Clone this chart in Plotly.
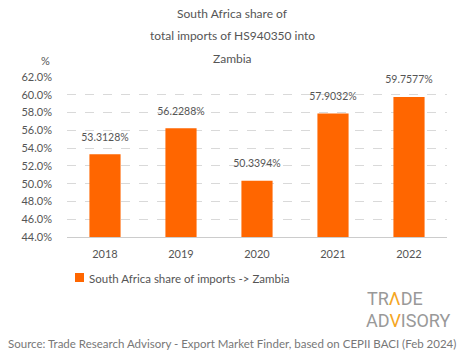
import plotly.graph_objects as go

years = ["2018", "2019", "2020", "2021", "2022"]
shares = [53.3128, 56.2288, 50.3394, 57.9032, 59.7577]
labels = ["53.3128%", "56.2288%", "50.3394%", "57.9032%", "59.7577%"]
series_name = "South Africa share of imports -> Zambia"
tick_vals = [44, 46, 48, 50, 52, 54, 56, 58, 60, 62]
tick_text = ["44.0%", "46.0%", "48.0%", "50.0%", "52.0%", "54.0%", "56.0%", "58.0%", "60.0%", "62.0%"]

FONT = "Lato, Noto Sans, sans-serif"
GREY = "#555555"
ORANGE = "#FF6600"

T, B, L, R = 77, 122, 67, 18
PH = 359 - T - B
PW = 465 - L - R

def py(px):
    return (359 - B - px) / PH

def pxx(px):
    return (px - L) / PW

fig = go.Figure()
fig.add_trace(go.Bar(
    x=years, y=shares, name=series_name,
    marker=dict(color=ORANGE, line=dict(width=0)),
    width=0.41, showlegend=False, hoverinfo="skip",
))
fig.add_trace(go.Scatter(
    x=years, y=shares, mode="markers+text", text=labels,
    textposition="top center", cliponaxis=False,
    marker=dict(size=16, color="rgba(0,0,0,0)"),
    textfont=dict(size=10.5, color=GREY, family=FONT),
    showlegend=False, hoverinfo="skip",
))

fig.update_layout(
    width=465, height=359,
    paper_bgcolor="white", plot_bgcolor="white",
    margin=dict(l=L, r=R, t=T, b=B, autoexpand=False),
    font=dict(family=FONT, color=GREY, size=11),
    showlegend=False,
    xaxis=dict(type="category", showgrid=False, showline=True, linecolor="#cccccc",
               ticks="outside", ticklen=7, tickcolor="white",
               tickfont=dict(size=11, color=GREY), automargin=False),
    yaxis=dict(range=[44, 62], tickvals=tick_vals, ticktext=tick_text,
               showgrid=True, gridcolor="#d9d9d9", griddash="dash", zeroline=False,
               tickfont=dict(size=11, color=GREY), ticks="", ticklabelstandoff=14,
               automargin=False),
)

# legend
fig.add_shape(type="rect", xref="paper", yref="paper",
              x0=pxx(75), x1=pxx(84), y0=py(282), y1=py(273),
              fillcolor=ORANGE, line=dict(width=0))
fig.add_annotation(text=series_name, xref="paper", yref="paper", x=pxx(87), y=py(278),
                   showarrow=False, xanchor="left", yanchor="middle",
                   font=dict(size=11.5, color=GREY, family=FONT))

title_lines = ["South Africa share of", "total imports of HS940350 into", "Zambia"]
for i, t in enumerate(title_lines):
    fig.add_annotation(text=t, xref="paper", yref="paper", x=pxx(232), xanchor="center",
                       y=py(13 + 23 * i), showarrow=False, yanchor="middle",
                       font=dict(size=12, color=GREY, family=FONT))

fig.add_annotation(text="%", xref="paper", yref="paper", x=pxx(45), y=py(61),
                   showarrow=False, xanchor="center", yanchor="middle",
                   font=dict(size=11, color=GREY, family=FONT))

fig.add_annotation(text="Source: Trade Research Advisory - Export Market Finder, based on CEPII BACI (Feb 2024)",
                   xref="paper", yref="paper", x=pxx(232), y=py(343),
                   showarrow=False, xanchor="center", yanchor="middle",
                   font=dict(size=11.5, color="#777777", family=FONT))

LOGO_FONT = "Roboto, sans-serif"
fig.add_annotation(text="TR<span style='color:#F5A623'>Λ</span>DE", xref="paper", yref="paper",
                   x=pxx(365), y=py(298), showarrow=False,
                   xanchor="left", yanchor="middle",
                   font=dict(size=18, color="#999999", family=LOGO_FONT))
fig.add_annotation(text="AD<span style='color:#F5A623'>V</span>ISORY", xref="paper", yref="paper",
                   x=pxx(452), y=py(320), showarrow=False,
                   xanchor="right", yanchor="middle",
                   font=dict(size=18, color="#999999", family=LOGO_FONT))

fig.write_html("out.html", config={"displayModeBar": False},
               post_script="document.body.style.margin='0';document.body.style.padding='0';")
